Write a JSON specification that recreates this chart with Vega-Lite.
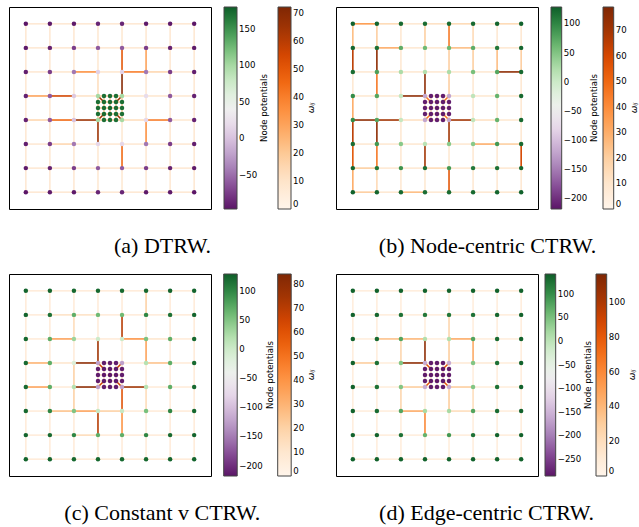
{
"$schema":"https://vega.github.io/schema/vega-lite/v6.json",
"padding":{"left":8,"top":6,"right":0,"bottom":0},
"background":"white",
"bounds":"flush",
"columns":2,
"spacing":{"row":65,"column":125},
"resolve":{"scale":{"fill":"independent","stroke":"independent","x":"independent","y":"independent"},"legend":{"fill":"independent","stroke":"independent"}},
"datasets":{
"edges":[
{"x":0,"y":0,"x2":1,"y2":0,"wa":7,"wb":35,"wc":6,"wd":7},
{"x":1,"y":0,"x2":2,"y2":0,"wa":7,"wb":15,"wc":6,"wd":7},
{"x":2,"y":0,"x2":3,"y2":0,"wa":7,"wb":8,"wc":6,"wd":7},
{"x":3,"y":0,"x2":4,"y2":0,"wa":7,"wb":12,"wc":6,"wd":7},
{"x":4,"y":0,"x2":5,"y2":0,"wa":7,"wb":15,"wc":6,"wd":7},
{"x":5,"y":0,"x2":6,"y2":0,"wa":7,"wb":8,"wc":6,"wd":7},
{"x":6,"y":0,"x2":7,"y2":0,"wa":7,"wb":15,"wc":6,"wd":7},
{"x":0,"y":1,"x2":1,"y2":1,"wa":7,"wb":8,"wc":6,"wd":7},
{"x":1,"y":1,"x2":2,"y2":1,"wa":7,"wb":30,"wc":12,"wd":7},
{"x":2,"y":1,"x2":3,"y2":1,"wa":7,"wb":8,"wc":12,"wd":7},
{"x":3,"y":1,"x2":4,"y2":1,"wa":7,"wb":8,"wc":6,"wd":7},
{"x":4,"y":1,"x2":5,"y2":1,"wa":7,"wb":25,"wc":6,"wd":7},
{"x":5,"y":1,"x2":6,"y2":1,"wa":7,"wb":8,"wc":6,"wd":7},
{"x":6,"y":1,"x2":7,"y2":1,"wa":7,"wb":8,"wc":6,"wd":7},
{"x":0,"y":2,"x2":1,"y2":2,"wa":7,"wb":8,"wc":6,"wd":7},
{"x":1,"y":2,"x2":2,"y2":2,"wa":8,"wb":8,"wc":35,"wd":35},
{"x":2,"y":2,"x2":3,"y2":2,"wa":35,"wb":8,"wc":6,"wd":40},
{"x":3,"y":2,"x2":4,"y2":2,"wa":8,"wb":8,"wc":6,"wd":7},
{"x":4,"y":2,"x2":5,"y2":2,"wa":40,"wb":8,"wc":40,"wd":45},
{"x":5,"y":2,"x2":6,"y2":2,"wa":15,"wb":8,"wc":10,"wd":7},
{"x":6,"y":2,"x2":7,"y2":2,"wa":7,"wb":75,"wc":6,"wd":7},
{"x":0,"y":3,"x2":1,"y2":3,"wa":30,"wb":8,"wc":30,"wd":30},
{"x":1,"y":3,"x2":2,"y2":3,"wa":55,"wb":8,"wc":10,"wd":7},
{"x":2,"y":3,"x2":3,"y2":3,"wa":10,"wb":75,"wc":80,"wd":110},
{"x":4,"y":3,"x2":5,"y2":3,"wa":8,"wb":8,"wc":6,"wd":10},
{"x":5,"y":3,"x2":6,"y2":3,"wa":8,"wb":8,"wc":25,"wd":10},
{"x":6,"y":3,"x2":7,"y2":3,"wa":7,"wb":8,"wc":6,"wd":7},
{"x":0,"y":4,"x2":1,"y2":4,"wa":15,"wb":75,"wc":35,"wd":7},
{"x":1,"y":4,"x2":2,"y2":4,"wa":45,"wb":70,"wc":6,"wd":7},
{"x":2,"y":4,"x2":3,"y2":4,"wa":65,"wb":12,"wc":80,"wd":30},
{"x":4,"y":4,"x2":5,"y2":4,"wa":12,"wb":70,"wc":75,"wd":30},
{"x":5,"y":4,"x2":6,"y2":4,"wa":40,"wb":12,"wc":6,"wd":7},
{"x":6,"y":4,"x2":7,"y2":4,"wa":7,"wb":8,"wc":6,"wd":7},
{"x":0,"y":5,"x2":1,"y2":5,"wa":7,"wb":8,"wc":6,"wd":7},
{"x":1,"y":5,"x2":2,"y2":5,"wa":15,"wb":8,"wc":25,"wd":7},
{"x":2,"y":5,"x2":3,"y2":5,"wa":7,"wb":8,"wc":35,"wd":45},
{"x":3,"y":5,"x2":4,"y2":5,"wa":7,"wb":8,"wc":20,"wd":7},
{"x":4,"y":5,"x2":5,"y2":5,"wa":7,"wb":8,"wc":6,"wd":20},
{"x":5,"y":5,"x2":6,"y2":5,"wa":7,"wb":30,"wc":6,"wd":10},
{"x":6,"y":5,"x2":7,"y2":5,"wa":7,"wb":20,"wc":6,"wd":7},
{"x":0,"y":6,"x2":1,"y2":6,"wa":7,"wb":20,"wc":6,"wd":7},
{"x":1,"y":6,"x2":2,"y2":6,"wa":7,"wb":8,"wc":6,"wd":7},
{"x":2,"y":6,"x2":3,"y2":6,"wa":7,"wb":8,"wc":15,"wd":7},
{"x":3,"y":6,"x2":4,"y2":6,"wa":7,"wb":15,"wc":6,"wd":7},
{"x":4,"y":6,"x2":5,"y2":6,"wa":7,"wb":8,"wc":6,"wd":7},
{"x":5,"y":6,"x2":6,"y2":6,"wa":7,"wb":8,"wc":6,"wd":7},
{"x":6,"y":6,"x2":7,"y2":6,"wa":7,"wb":8,"wc":6,"wd":7},
{"x":0,"y":7,"x2":1,"y2":7,"wa":7,"wb":20,"wc":6,"wd":7},
{"x":1,"y":7,"x2":2,"y2":7,"wa":7,"wb":8,"wc":6,"wd":7},
{"x":2,"y":7,"x2":3,"y2":7,"wa":7,"wb":25,"wc":6,"wd":7},
{"x":3,"y":7,"x2":4,"y2":7,"wa":7,"wb":8,"wc":6,"wd":7},
{"x":4,"y":7,"x2":5,"y2":7,"wa":7,"wb":8,"wc":6,"wd":7},
{"x":5,"y":7,"x2":6,"y2":7,"wa":7,"wb":8,"wc":6,"wd":7},
{"x":6,"y":7,"x2":7,"y2":7,"wa":7,"wb":8,"wc":6,"wd":7},
{"x":0,"y":0,"x2":0,"y2":1,"wa":7,"wb":25,"wc":6,"wd":7},
{"x":0,"y":1,"x2":0,"y2":2,"wa":7,"wb":65,"wc":6,"wd":7},
{"x":0,"y":2,"x2":0,"y2":3,"wa":7,"wb":8,"wc":6,"wd":7},
{"x":0,"y":3,"x2":0,"y2":4,"wa":7,"wb":30,"wc":6,"wd":7},
{"x":0,"y":4,"x2":0,"y2":5,"wa":7,"wb":65,"wc":6,"wd":7},
{"x":0,"y":5,"x2":0,"y2":6,"wa":7,"wb":55,"wc":6,"wd":7},
{"x":0,"y":6,"x2":0,"y2":7,"wa":7,"wb":30,"wc":6,"wd":7},
{"x":1,"y":0,"x2":1,"y2":1,"wa":7,"wb":20,"wc":6,"wd":7},
{"x":1,"y":1,"x2":1,"y2":2,"wa":7,"wb":75,"wc":6,"wd":7},
{"x":1,"y":2,"x2":1,"y2":3,"wa":7,"wb":45,"wc":6,"wd":7},
{"x":1,"y":3,"x2":1,"y2":4,"wa":7,"wb":8,"wc":6,"wd":7},
{"x":1,"y":4,"x2":1,"y2":5,"wa":7,"wb":75,"wc":6,"wd":7},
{"x":1,"y":5,"x2":1,"y2":6,"wa":7,"wb":45,"wc":6,"wd":7},
{"x":1,"y":6,"x2":1,"y2":7,"wa":7,"wb":15,"wc":6,"wd":7},
{"x":2,"y":0,"x2":2,"y2":1,"wa":7,"wb":8,"wc":6,"wd":7},
{"x":2,"y":1,"x2":2,"y2":2,"wa":7,"wb":8,"wc":15,"wd":7},
{"x":2,"y":2,"x2":2,"y2":3,"wa":7,"wb":8,"wc":6,"wd":25},
{"x":2,"y":3,"x2":2,"y2":4,"wa":7,"wb":8,"wc":20,"wd":7},
{"x":2,"y":4,"x2":2,"y2":5,"wa":7,"wb":8,"wc":20,"wd":25},
{"x":2,"y":5,"x2":2,"y2":6,"wa":7,"wb":8,"wc":6,"wd":7},
{"x":2,"y":6,"x2":2,"y2":7,"wa":7,"wb":8,"wc":6,"wd":7},
{"x":3,"y":0,"x2":3,"y2":1,"wa":7,"wb":20,"wc":6,"wd":7},
{"x":3,"y":1,"x2":3,"y2":2,"wa":7,"wb":8,"wc":6,"wd":7},
{"x":3,"y":2,"x2":3,"y2":3,"wa":12,"wb":75,"wc":75,"wd":110},
{"x":3,"y":4,"x2":3,"y2":5,"wa":65,"wb":8,"wc":6,"wd":7},
{"x":3,"y":5,"x2":3,"y2":6,"wa":7,"wb":70,"wc":70,"wd":60},
{"x":3,"y":6,"x2":3,"y2":7,"wa":7,"wb":8,"wc":6,"wd":7},
{"x":4,"y":0,"x2":4,"y2":1,"wa":7,"wb":45,"wc":6,"wd":7},
{"x":4,"y":1,"x2":4,"y2":2,"wa":50,"wb":20,"wc":70,"wd":25},
{"x":4,"y":2,"x2":4,"y2":3,"wa":70,"wb":20,"wc":6,"wd":30},
{"x":4,"y":4,"x2":4,"y2":5,"wa":7,"wb":70,"wc":60,"wd":30},
{"x":4,"y":5,"x2":4,"y2":6,"wa":45,"wb":8,"wc":40,"wd":7},
{"x":4,"y":6,"x2":4,"y2":7,"wa":7,"wb":55,"wc":6,"wd":7},
{"x":5,"y":0,"x2":5,"y2":1,"wa":7,"wb":15,"wc":20,"wd":7},
{"x":5,"y":1,"x2":5,"y2":2,"wa":30,"wb":20,"wc":6,"wd":7},
{"x":5,"y":2,"x2":5,"y2":3,"wa":7,"wb":8,"wc":35,"wd":45},
{"x":5,"y":3,"x2":5,"y2":4,"wa":7,"wb":8,"wc":6,"wd":7},
{"x":5,"y":4,"x2":5,"y2":5,"wa":35,"wb":8,"wc":15,"wd":20},
{"x":5,"y":5,"x2":5,"y2":6,"wa":7,"wb":8,"wc":6,"wd":7},
{"x":5,"y":6,"x2":5,"y2":7,"wa":7,"wb":8,"wc":6,"wd":7},
{"x":6,"y":0,"x2":6,"y2":1,"wa":7,"wb":8,"wc":6,"wd":7},
{"x":6,"y":1,"x2":6,"y2":2,"wa":7,"wb":25,"wc":6,"wd":7},
{"x":6,"y":2,"x2":6,"y2":3,"wa":7,"wb":8,"wc":6,"wd":7},
{"x":6,"y":3,"x2":6,"y2":4,"wa":7,"wb":8,"wc":6,"wd":7},
{"x":6,"y":4,"x2":6,"y2":5,"wa":7,"wb":8,"wc":6,"wd":7},
{"x":6,"y":5,"x2":6,"y2":6,"wa":7,"wb":8,"wc":6,"wd":7},
{"x":6,"y":6,"x2":6,"y2":7,"wa":7,"wb":8,"wc":6,"wd":7},
{"x":7,"y":0,"x2":7,"y2":1,"wa":7,"wb":8,"wc":6,"wd":7},
{"x":7,"y":1,"x2":7,"y2":2,"wa":7,"wb":20,"wc":6,"wd":7},
{"x":7,"y":2,"x2":7,"y2":3,"wa":7,"wb":8,"wc":6,"wd":7},
{"x":7,"y":3,"x2":7,"y2":4,"wa":7,"wb":8,"wc":6,"wd":7},
{"x":7,"y":4,"x2":7,"y2":5,"wa":7,"wb":8,"wc":6,"wd":7},
{"x":7,"y":5,"x2":7,"y2":6,"wa":7,"wb":60,"wc":6,"wd":7},
{"x":7,"y":6,"x2":7,"y2":7,"wa":7,"wb":8,"wc":6,"wd":7},
{"x":3,"y":3,"x2":3.25,"y2":3,"wa":18,"wb":12,"wc":10,"wd":10},
{"x":3.25,"y":3,"x2":3.5,"y2":3,"wa":18,"wb":12,"wc":10,"wd":10},
{"x":3.5,"y":3,"x2":3.75,"y2":3,"wa":18,"wb":12,"wc":10,"wd":10},
{"x":3.75,"y":3,"x2":4,"y2":3,"wa":18,"wb":12,"wc":10,"wd":10},
{"x":3,"y":3.25,"x2":3.25,"y2":3.25,"wa":18,"wb":12,"wc":10,"wd":10},
{"x":3.25,"y":3.25,"x2":3.5,"y2":3.25,"wa":18,"wb":12,"wc":10,"wd":10},
{"x":3.5,"y":3.25,"x2":3.75,"y2":3.25,"wa":18,"wb":12,"wc":10,"wd":10},
{"x":3.75,"y":3.25,"x2":4,"y2":3.25,"wa":18,"wb":12,"wc":10,"wd":10},
{"x":3,"y":3.5,"x2":3.25,"y2":3.5,"wa":18,"wb":12,"wc":10,"wd":10},
{"x":3.25,"y":3.5,"x2":3.5,"y2":3.5,"wa":18,"wb":12,"wc":10,"wd":10},
{"x":3.5,"y":3.5,"x2":3.75,"y2":3.5,"wa":18,"wb":12,"wc":10,"wd":10},
{"x":3.75,"y":3.5,"x2":4,"y2":3.5,"wa":18,"wb":12,"wc":10,"wd":10},
{"x":3,"y":3.75,"x2":3.25,"y2":3.75,"wa":18,"wb":12,"wc":10,"wd":10},
{"x":3.25,"y":3.75,"x2":3.5,"y2":3.75,"wa":18,"wb":12,"wc":10,"wd":10},
{"x":3.5,"y":3.75,"x2":3.75,"y2":3.75,"wa":18,"wb":12,"wc":10,"wd":10},
{"x":3.75,"y":3.75,"x2":4,"y2":3.75,"wa":18,"wb":12,"wc":10,"wd":10},
{"x":3,"y":4,"x2":3.25,"y2":4,"wa":18,"wb":12,"wc":10,"wd":10},
{"x":3.25,"y":4,"x2":3.5,"y2":4,"wa":18,"wb":12,"wc":10,"wd":10},
{"x":3.5,"y":4,"x2":3.75,"y2":4,"wa":18,"wb":12,"wc":10,"wd":10},
{"x":3.75,"y":4,"x2":4,"y2":4,"wa":18,"wb":12,"wc":10,"wd":10},
{"x":3,"y":3,"x2":3,"y2":3.25,"wa":18,"wb":12,"wc":10,"wd":10},
{"x":3,"y":3.25,"x2":3,"y2":3.5,"wa":18,"wb":12,"wc":10,"wd":10},
{"x":3,"y":3.5,"x2":3,"y2":3.75,"wa":18,"wb":12,"wc":10,"wd":10},
{"x":3,"y":3.75,"x2":3,"y2":4,"wa":18,"wb":12,"wc":10,"wd":10},
{"x":3.25,"y":3,"x2":3.25,"y2":3.25,"wa":18,"wb":12,"wc":10,"wd":10},
{"x":3.25,"y":3.25,"x2":3.25,"y2":3.5,"wa":18,"wb":12,"wc":10,"wd":10},
{"x":3.25,"y":3.5,"x2":3.25,"y2":3.75,"wa":18,"wb":12,"wc":10,"wd":10},
{"x":3.25,"y":3.75,"x2":3.25,"y2":4,"wa":18,"wb":12,"wc":10,"wd":10},
{"x":3.5,"y":3,"x2":3.5,"y2":3.25,"wa":18,"wb":12,"wc":10,"wd":10},
{"x":3.5,"y":3.25,"x2":3.5,"y2":3.5,"wa":18,"wb":12,"wc":10,"wd":10},
{"x":3.5,"y":3.5,"x2":3.5,"y2":3.75,"wa":18,"wb":12,"wc":10,"wd":10},
{"x":3.5,"y":3.75,"x2":3.5,"y2":4,"wa":18,"wb":12,"wc":10,"wd":10},
{"x":3.75,"y":3,"x2":3.75,"y2":3.25,"wa":18,"wb":12,"wc":10,"wd":10},
{"x":3.75,"y":3.25,"x2":3.75,"y2":3.5,"wa":18,"wb":12,"wc":10,"wd":10},
{"x":3.75,"y":3.5,"x2":3.75,"y2":3.75,"wa":18,"wb":12,"wc":10,"wd":10},
{"x":3.75,"y":3.75,"x2":3.75,"y2":4,"wa":18,"wb":12,"wc":10,"wd":10},
{"x":4,"y":3,"x2":4,"y2":3.25,"wa":18,"wb":12,"wc":10,"wd":10},
{"x":4,"y":3.25,"x2":4,"y2":3.5,"wa":18,"wb":12,"wc":10,"wd":10},
{"x":4,"y":3.5,"x2":4,"y2":3.75,"wa":18,"wb":12,"wc":10,"wd":10},
{"x":4,"y":3.75,"x2":4,"y2":4,"wa":18,"wb":12,"wc":10,"wd":10},
{"x":3,"y":3,"x2":3.25,"y2":3.25,"wa":65,"wb":45,"wc":65,"wd":80},
{"x":4,"y":3,"x2":3.75,"y2":3.25,"wa":65,"wb":45,"wc":65,"wd":80},
{"x":3,"y":4,"x2":3.25,"y2":3.75,"wa":65,"wb":45,"wc":65,"wd":80},
{"x":4,"y":4,"x2":3.75,"y2":3.75,"wa":65,"wb":45,"wc":65,"wd":80}
],
"nodes":[
{"x":0,"y":0,"pa":-97,"pb":125,"pc":125,"pd":138},
{"x":1,"y":0,"pa":-95,"pb":122,"pc":125,"pd":138},
{"x":2,"y":0,"pa":-95,"pb":120,"pc":122,"pd":138},
{"x":3,"y":0,"pa":-88,"pb":118,"pc":122,"pd":138},
{"x":4,"y":0,"pa":-88,"pb":118,"pc":122,"pd":138},
{"x":5,"y":0,"pa":-95,"pb":120,"pc":122,"pd":138},
{"x":6,"y":0,"pa":-95,"pb":122,"pc":125,"pd":138},
{"x":7,"y":0,"pa":-97,"pb":125,"pc":125,"pd":138},
{"x":0,"y":1,"pa":-95,"pb":122,"pc":125,"pd":138},
{"x":1,"y":1,"pa":-90,"pb":115,"pc":115,"pd":135},
{"x":2,"y":1,"pa":-75,"pb":70,"pc":70,"pd":125},
{"x":3,"y":1,"pa":-60,"pb":60,"pc":60,"pd":120},
{"x":4,"y":1,"pa":-60,"pb":60,"pc":60,"pd":120},
{"x":5,"y":1,"pa":-75,"pb":70,"pc":100,"pd":125},
{"x":6,"y":1,"pa":-90,"pb":110,"pc":115,"pd":135},
{"x":7,"y":1,"pa":-95,"pb":122,"pc":125,"pd":138},
{"x":0,"y":2,"pa":-92,"pb":118,"pc":122,"pd":138},
{"x":1,"y":2,"pa":-75,"pb":80,"pc":70,"pd":130},
{"x":2,"y":2,"pa":-45,"pb":25,"pc":35,"pd":78},
{"x":3,"y":2,"pa":10,"pb":20,"pc":0,"pd":10},
{"x":4,"y":2,"pa":10,"pb":25,"pc":0,"pd":10},
{"x":5,"y":2,"pa":-45,"pb":55,"pc":52,"pd":78},
{"x":6,"y":2,"pa":-75,"pb":75,"pc":70,"pd":130},
{"x":7,"y":2,"pa":-92,"pb":120,"pc":122,"pd":138},
{"x":0,"y":3,"pa":-90,"pb":95,"pc":120,"pd":138},
{"x":1,"y":3,"pa":-60,"pb":75,"pc":70,"pd":125},
{"x":2,"y":3,"pa":5,"pb":5,"pc":-15,"pd":44},
{"x":3,"y":3,"pa":100,"pb":-120,"pc":-125,"pd":-160},
{"x":4,"y":3,"pa":100,"pb":-120,"pc":-125,"pd":-160},
{"x":5,"y":3,"pa":20,"pb":10,"pc":18,"pd":44},
{"x":6,"y":3,"pa":-60,"pb":65,"pc":70,"pd":125},
{"x":7,"y":3,"pa":-90,"pb":120,"pc":120,"pd":138},
{"x":0,"y":4,"pa":-90,"pb":95,"pc":120,"pd":138},
{"x":1,"y":4,"pa":-60,"pb":75,"pc":70,"pd":125},
{"x":2,"y":4,"pa":0,"pb":5,"pc":18,"pd":44},
{"x":3,"y":4,"pa":100,"pb":-120,"pc":-125,"pd":-160},
{"x":4,"y":4,"pa":100,"pb":-120,"pc":-125,"pd":-160},
{"x":5,"y":4,"pa":15,"pb":10,"pc":18,"pd":44},
{"x":6,"y":4,"pa":-60,"pb":65,"pc":70,"pd":125},
{"x":7,"y":4,"pa":-90,"pb":120,"pc":120,"pd":138},
{"x":0,"y":5,"pa":-92,"pb":118,"pc":122,"pd":138},
{"x":1,"y":5,"pa":-75,"pb":85,"pc":100,"pd":130},
{"x":2,"y":5,"pa":-45,"pb":45,"pc":50,"pd":78},
{"x":3,"y":5,"pa":15,"pb":15,"pc":5,"pd":18},
{"x":4,"y":5,"pa":15,"pb":45,"pc":5,"pd":18},
{"x":5,"y":5,"pa":-45,"pb":45,"pc":55,"pd":78},
{"x":6,"y":5,"pa":-75,"pb":85,"pc":100,"pd":130},
{"x":7,"y":5,"pa":-92,"pb":120,"pc":122,"pd":138},
{"x":0,"y":6,"pa":-95,"pb":122,"pc":125,"pd":138},
{"x":1,"y":6,"pa":-90,"pb":110,"pc":120,"pd":138},
{"x":2,"y":6,"pa":-75,"pb":90,"pc":100,"pd":125},
{"x":3,"y":6,"pa":-60,"pb":115,"pc":70,"pd":65},
{"x":4,"y":6,"pa":-60,"pb":85,"pc":70,"pd":90},
{"x":5,"y":6,"pa":-75,"pb":110,"pc":100,"pd":125},
{"x":6,"y":6,"pa":-90,"pb":115,"pc":120,"pd":138},
{"x":7,"y":6,"pa":-95,"pb":122,"pc":125,"pd":138},
{"x":0,"y":7,"pa":-97,"pb":125,"pc":125,"pd":138},
{"x":1,"y":7,"pa":-95,"pb":122,"pc":125,"pd":138},
{"x":2,"y":7,"pa":-95,"pb":120,"pc":122,"pd":138},
{"x":3,"y":7,"pa":-88,"pb":118,"pc":122,"pd":138},
{"x":4,"y":7,"pa":-88,"pb":118,"pc":122,"pd":138},
{"x":5,"y":7,"pa":-95,"pb":120,"pc":122,"pd":138},
{"x":6,"y":7,"pa":-95,"pb":122,"pc":125,"pd":138},
{"x":7,"y":7,"pa":-97,"pb":125,"pc":125,"pd":138},
{"x":3.25,"y":3,"pa":170,"pb":-212,"pc":-213,"pd":-281},
{"x":3.5,"y":3,"pa":170,"pb":-212,"pc":-213,"pd":-281},
{"x":3.75,"y":3,"pa":170,"pb":-212,"pc":-213,"pd":-281},
{"x":3,"y":3.25,"pa":170,"pb":-212,"pc":-213,"pd":-281},
{"x":3.25,"y":3.25,"pa":172,"pb":-214,"pc":-215,"pd":-283},
{"x":3.5,"y":3.25,"pa":172,"pb":-214,"pc":-215,"pd":-283},
{"x":3.75,"y":3.25,"pa":172,"pb":-214,"pc":-215,"pd":-283},
{"x":4,"y":3.25,"pa":170,"pb":-212,"pc":-213,"pd":-281},
{"x":3,"y":3.5,"pa":170,"pb":-212,"pc":-213,"pd":-281},
{"x":3.25,"y":3.5,"pa":172,"pb":-214,"pc":-215,"pd":-283},
{"x":3.5,"y":3.5,"pa":175,"pb":-216,"pc":-217,"pd":-285},
{"x":3.75,"y":3.5,"pa":172,"pb":-214,"pc":-215,"pd":-283},
{"x":4,"y":3.5,"pa":170,"pb":-212,"pc":-213,"pd":-281},
{"x":3,"y":3.75,"pa":170,"pb":-212,"pc":-213,"pd":-281},
{"x":3.25,"y":3.75,"pa":172,"pb":-214,"pc":-215,"pd":-283},
{"x":3.5,"y":3.75,"pa":172,"pb":-214,"pc":-215,"pd":-283},
{"x":3.75,"y":3.75,"pa":172,"pb":-214,"pc":-215,"pd":-283},
{"x":4,"y":3.75,"pa":170,"pb":-212,"pc":-213,"pd":-281},
{"x":3.25,"y":4,"pa":170,"pb":-212,"pc":-213,"pd":-281},
{"x":3.5,"y":4,"pa":170,"pb":-212,"pc":-213,"pd":-281},
{"x":3.75,"y":4,"pa":170,"pb":-212,"pc":-213,"pd":-281}
]
},
"concat":[
{"width":202,"height":202,"title":{"text":"(a) DTRW."},
 "layer":[
 {"data":{"name":"edges"},"mark":{"type":"rule","strokeWidth":1.6},
  "encoding":{
   "x":{"field":"x","type":"quantitative","scale":{"domain":[-0.7,7.7],"nice":false,"zero":false},"axis":null},
   "y":{"field":"y","type":"quantitative","scale":{"domain":[-0.7,7.7],"nice":false,"zero":false,"reverse":true},"axis":null},
   "x2":{"field":"x2"},"y2":{"field":"y2"},
   "stroke":{"field":"wa","type":"quantitative","scale":{"domain":[0,9,18,27,36,45,54,63,72],"range":["#fff5eb","#fee6ce","#fdd0a2","#fdae6b","#fd8d3c","#f16913","#d94801","#a63603","#7f2704"],"nice":false},
    "legend":{"title":"ωᵢⱼ","legendX":269,"legendY":0,"gradientThickness":13,"values":[0,10,20,30,40,50,60,70],"titleFontStyle":"italic","titleFontSize":9,"encoding":{"title":{"angle":{"value":-90}}}}}
  }},
 {"data":{"name":"nodes"},"mark":{"type":"circle","size":20,"opacity":1},
  "encoding":{
   "x":{"field":"x","type":"quantitative"},
   "y":{"field":"y","type":"quantitative"},
   "fill":{"field":"pa","type":"quantitative","scale":{"scheme":"purplegreen","domain":[-97,180],"nice":false},
    "legend":{"title":"Node potentials","legendX":215,"legendY":0,"gradientThickness":13,"values":[-50,0,50,100,150],"encoding":{"title":{"angle":{"value":-90}}}}}
  }}
 ]},
{"width":202,"height":202,"title":{"text":"(b) Node-centric CTRW."},
 "layer":[
 {"data":{"name":"edges"},"mark":{"type":"rule","strokeWidth":1.6},
  "encoding":{
   "x":{"field":"x","type":"quantitative","scale":{"domain":[-0.7,7.7],"nice":false,"zero":false},"axis":null},
   "y":{"field":"y","type":"quantitative","scale":{"domain":[-0.7,7.7],"nice":false,"zero":false,"reverse":true},"axis":null},
   "x2":{"field":"x2"},"y2":{"field":"y2"},
   "stroke":{"field":"wb","type":"quantitative","scale":{"domain":[0,9.875,19.75,29.625,39.5,49.375,59.25,69.125,79],"range":["#fff5eb","#fee6ce","#fdd0a2","#fdae6b","#fd8d3c","#f16913","#d94801","#a63603","#7f2704"],"nice":false},
    "legend":{"title":"ωᵢⱼ","legendX":267,"legendY":0,"gradientThickness":10.7,"values":[0,10,20,30,40,50,60,70],"titleFontStyle":"italic","titleFontSize":9,"encoding":{"title":{"angle":{"value":-90}}}}}
  }},
 {"data":{"name":"nodes"},"mark":{"type":"circle","size":20,"opacity":1},
  "encoding":{
   "x":{"field":"x","type":"quantitative"},
   "y":{"field":"y","type":"quantitative"},
   "fill":{"field":"pb","type":"quantitative","scale":{"scheme":"purplegreen","domain":[-218,128],"nice":false},
    "legend":{"title":"Node potentials","legendX":215,"legendY":0,"gradientThickness":10.7,"values":[-200,-150,-100,-50,0,50,100],"encoding":{"title":{"angle":{"value":-90}}}}}
  }}
 ]},
{"width":202,"height":202,"title":{"text":"(c) Constant v CTRW."},
 "layer":[
 {"data":{"name":"edges"},"mark":{"type":"rule","strokeWidth":1.6},
  "encoding":{
   "x":{"field":"x","type":"quantitative","scale":{"domain":[-0.7,7.7],"nice":false,"zero":false},"axis":null},
   "y":{"field":"y","type":"quantitative","scale":{"domain":[-0.7,7.7],"nice":false,"zero":false,"reverse":true},"axis":null},
   "x2":{"field":"x2"},"y2":{"field":"y2"},
   "stroke":{"field":"wc","type":"quantitative","scale":{"domain":[0,10.5,21,31.5,42,52.5,63,73.5,84],"range":["#fff5eb","#fee6ce","#fdd0a2","#fdae6b","#fd8d3c","#f16913","#d94801","#a63603","#7f2704"],"nice":false},
    "legend":{"title":"ωᵢⱼ","legendX":268.7,"legendY":0,"gradientThickness":13.5,"values":[0,10,20,30,40,50,60,70,80],"titleFontStyle":"italic","titleFontSize":9,"encoding":{"title":{"angle":{"value":-90}}}}}
  }},
 {"data":{"name":"nodes"},"mark":{"type":"circle","size":20,"opacity":1},
  "encoding":{
   "x":{"field":"x","type":"quantitative"},
   "y":{"field":"y","type":"quantitative"},
   "fill":{"field":"pc","type":"quantitative","scale":{"scheme":"purplegreen","domain":[-218,129],"nice":false},
    "legend":{"title":"Node potentials","legendX":214.7,"legendY":0,"gradientThickness":13.5,"values":[-200,-150,-100,-50,0,50,100],"encoding":{"title":{"angle":{"value":-90}}}}}
  }}
 ]},
{"width":202,"height":202,"title":{"text":"(d) Edge-centric CTRW."},
 "layer":[
 {"data":{"name":"edges"},"mark":{"type":"rule","strokeWidth":1.6},
  "encoding":{
   "x":{"field":"x","type":"quantitative","scale":{"domain":[-0.7,7.7],"nice":false,"zero":false},"axis":null},
   "y":{"field":"y","type":"quantitative","scale":{"domain":[-0.7,7.7],"nice":false,"zero":false,"reverse":true},"axis":null},
   "x2":{"field":"x2"},"y2":{"field":"y2"},
   "stroke":{"field":"wd","type":"quantitative","scale":{"domain":[0,14.5,29,43.5,58,72.5,87,101.5,116],"range":["#fff5eb","#fee6ce","#fdd0a2","#fdae6b","#fd8d3c","#f16913","#d94801","#a63603","#7f2704"],"nice":false},
    "legend":{"title":"ωᵢⱼ","legendX":260,"legendY":0,"gradientThickness":10.7,"values":[0,20,40,60,80,100],"titleFontStyle":"italic","titleFontSize":9,"encoding":{"title":{"angle":{"value":-90}}}}}
  }},
 {"data":{"name":"nodes"},"mark":{"type":"circle","size":20,"opacity":1},
  "encoding":{
   "x":{"field":"x","type":"quantitative"},
   "y":{"field":"y","type":"quantitative"},
   "fill":{"field":"pd","type":"quantitative","scale":{"scheme":"purplegreen","domain":[-286,142],"nice":false},
    "legend":{"title":"Node potentials","legendX":209,"legendY":0,"gradientThickness":10.7,"values":[-250,-200,-150,-100,-50,0,50,100],"encoding":{"title":{"angle":{"value":-90}}}}}
  }}
 ]}
],
"config":{
 "view":{"stroke":"#000","strokeWidth":1},
 "legend":{"orient":"none","direction":"vertical","gradientLength":202,"gradientStrokeColor":"#444","gradientStrokeWidth":1,"labelFont":"DejaVu Sans","labelFontSize":8.6,"labelColor":"#000","labelOffset":3,"labelOverlap":false,"titleFont":"DejaVu Sans","titleFontSize":8.6,"titleFontWeight":"normal","titleColor":"#000","titleOrient":"right","titleBaseline":"top","titlePadding":3,"padding":0,"format":"d"},
 "title":{"font":"Liberation Serif","fontSize":22,"fontWeight":"normal","color":"#000","orient":"bottom","anchor":"middle","frame":"bounds","offset":26,"baseline":"alphabetic"}
}
}
